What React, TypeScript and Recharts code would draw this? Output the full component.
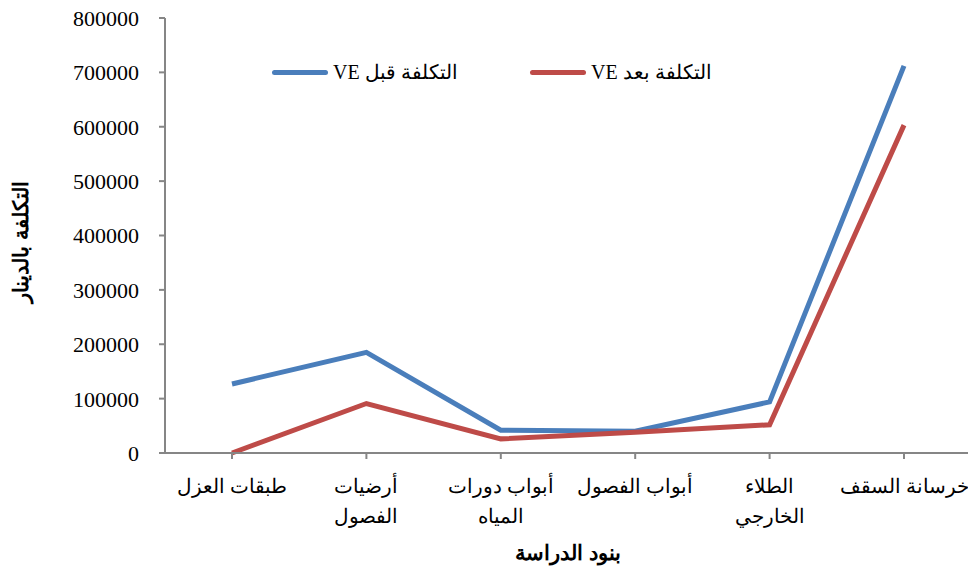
import React from 'react';
import { LineChart, Line, XAxis, YAxis, Label, Legend } from 'recharts';

const categories = ['طبقات العزل', 'أرضيات الفصول', 'أبواب دورات المياه', 'أبواب الفصول', 'الطلاء الخارجي', 'خرسانة السقف'];
const categoryLines: Record<string, string[]> = {
  'طبقات العزل': ['طبقات العزل'],
  'أرضيات الفصول': ['أرضيات', 'الفصول'],
  'أبواب دورات المياه': ['أبواب دورات', 'المياه'],
  'أبواب الفصول': ['أبواب الفصول'],
  'الطلاء الخارجي': ['الطلاء', 'الخارجي'],
  'خرسانة السقف': ['خرسانة السقف'],
};
const costBefore = [127000, 185000, 42000, 40000, 94000, 712000];
const costAfter = [0, 91000, 26000, 38000, 52000, 603000];
const yTicks = [0, 100000, 200000, 300000, 400000, 500000, 600000, 700000, 800000];
const seriesNames = ['التكلفة قبل VE', 'التكلفة بعد VE'];
const xTitle = 'بنود الدراسة';
const yTitle = 'التكلفة بالدينار';

const data = categories.map((c, i) => ({ name: c, before: costBefore[i], after: costAfter[i] }));

const BLUE = '#4A7EBB';
const RED = '#BE4B48';
const AXIS = '#868686';
const FONT = "'Liberation Serif', 'DejaVu Serif', serif";

const XTick = (props: any) => {
  const { x, y, payload } = props;
  const lines = categoryLines[payload.value] || [payload.value];
  return (
    <text x={x} y={y} textAnchor="middle" fill="#000" style={{ fontFamily: FONT, fontSize: 20 }} direction="rtl">
      {lines.map((l, i) => (
        <tspan key={i} x={x} dy={i === 0 ? 32 : 30}>{l}</tspan>
      ))}
    </text>
  );
};

const YTick = (props: any) => {
  const { x, y, payload } = props;
  return (
    <text x={x} y={y} dy="0.36em" textAnchor="end" fill="#000" style={{ fontFamily: FONT, fontSize: 22 }}>
      {payload.value}
    </text>
  );
};

const LegendContent = () => {
  const items = [
    { name: seriesNames[0], color: BLUE, left: 272 },
    { name: seriesNames[1], color: RED, left: 530 },
  ];
  return (
    <div style={{ position: 'relative', width: 968, height: 0, overflow: 'visible' }}>
      {items.map((it) => (
        <div key={it.name} style={{ position: 'absolute', left: it.left, top: 0, height: 30, display: 'flex', alignItems: 'center' }}>
          <div style={{ width: 56, height: 5, borderRadius: 3, background: it.color }} />
          <span dir="rtl" style={{ marginLeft: 5, fontFamily: FONT, fontSize: 20, color: '#000', whiteSpace: 'nowrap' }}>{it.name}</span>
        </div>
      ))}
    </div>
  );
};

export default function App() {
  return (
    <div style={{ position: 'absolute', left: 0, top: 0, width: 968, height: 572, background: '#fff' }}>
      <LineChart width={968} height={572} data={data} margin={{ top: 18, right: 0, bottom: 19, left: 0 }}>
        <XAxis
          dataKey="name"
          padding={{ left: 67, right: 64 }}
          height={100}
          stroke={AXIS}
          strokeWidth={2}
          tickSize={6}
          tickLine={{ stroke: AXIS, strokeWidth: 2 }}
          tick={<XTick />}
          interval={0}
        >
          <Label
            content={() => (
              <text x={568} y={560} textAnchor="middle" fill="#000" direction="rtl" style={{ fontFamily: FONT, fontSize: 21, fontWeight: 'bold' }}>
                {xTitle}
              </text>
            )}
          />
        </XAxis>
        <YAxis
          width={165}
          domain={[0, 800000]}
          ticks={yTicks}
          stroke={AXIS}
          strokeWidth={2}
          tickSize={6}
          tickMargin={20}
          tickLine={{ stroke: AXIS, strokeWidth: 2 }}
          tick={<YTick />}
          interval={0}
        >
          <Label
            content={() => (
              <text x={0} y={0} transform="translate(28,242) rotate(-90)" textAnchor="middle" fill="#000" direction="rtl" style={{ fontFamily: FONT, fontSize: 21, fontWeight: 'bold' }}>
                {yTitle}
              </text>
            )}
          />
        </YAxis>
        <Legend content={<LegendContent />} verticalAlign="top" wrapperStyle={{ position: 'absolute', top: 57, left: 0, width: 968, height: 0 }} />
        <Line dataKey="before" name={seriesNames[0]} stroke={BLUE} strokeWidth={5} dot={false} activeDot={false} isAnimationActive={false} />
        <Line dataKey="after" name={seriesNames[1]} stroke={RED} strokeWidth={5} dot={false} activeDot={false} isAnimationActive={false} />
      </LineChart>
    </div>
  );
}
